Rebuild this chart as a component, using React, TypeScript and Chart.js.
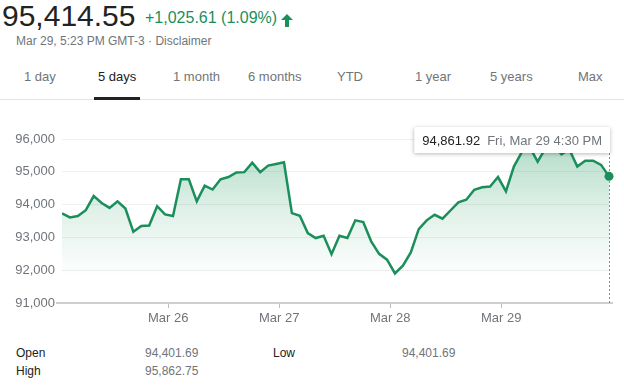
import React, { useEffect, useRef } from 'react';
import { Chart, registerables } from 'chart.js';

Chart.register(...registerables);

// ---- Data ----
const prices: number[] = [
  // Mar 25
  93730, 93610, 93650, 93830, 94260, 94050, 93900, 94100, 93880, 93170, 93350, 93360, 93950, 93700,
  // Mar 26
  93650, 94770, 94770, 94100, 94580, 94460, 94770, 94840, 94980, 94990, 95280, 94990, 95190, 95240,
  // Mar 27
  95290, 93740, 93660, 93130, 92980, 93050, 92490, 93050, 92980, 93520, 93470, 92880, 92500, 92320,
  // Mar 28
  91900, 92140, 92540, 93250, 93520, 93690, 93570, 93820, 94070, 94150, 94450, 94530, 94550, 94840,
  // Mar 29
  94401.69, 95160, 95600, 95750, 95310, 95720, 95862.75, 95530, 95680, 95160, 95340, 95340, 95210, 94861.92,
];
const pointsPerDay = 14;
const dayLabels = ['Mar 26', 'Mar 27', 'Mar 28', 'Mar 29'];
const yMin = 91000;
const yMax = 96000;
const yStep = 1000;

const lastValueText = '94,861.92';
const lastTimeText = 'Fri, Mar 29 4:30 PM';

const headPrice = '95,414.55';
const headChange = '+1,025.61 (1.09%)';
const headSub = 'Mar 29, 5:23 PM GMT-3';
const headDisclaimer = 'Disclaimer';
const tabs = ['1 day', '5 days', '1 month', '6 months', 'YTD', '1 year', '5 years', 'Max'];
const activeTab = '5 days';
const statLabels = ['Open', 'High', 'Low'];
const statValues = ['94,401.69', '95,862.75', '94,401.69'];

const FONT = 'Arial, "Liberation Sans", Helvetica, sans-serif';
const GREEN = '#1b8f5b';
const GRAY = '#70757a';

const tabX = [24, 98, 173, 248, 337, 415, 490, 578];

export default function App() {
  const canvasRef = useRef<HTMLCanvasElement | null>(null);

  useEffect(() => {
    const canvas = canvasRef.current;
    if (!canvas) return;
    const last = prices.length - 1;

    const overlay = {
      id: 'overlay',
      afterDraw(chart: any) {
        const ctx = chart.ctx as CanvasRenderingContext2D;
        const area = chart.chartArea;
        const meta = chart.getDatasetMeta(0);
        const pt = meta.data[last];
        ctx.save();
        // x-axis baseline
        ctx.strokeStyle = '#cfcfcf';
        ctx.lineWidth = 2;
        ctx.beginPath();
        ctx.moveTo(area.left - 6, area.bottom);
        ctx.lineTo(area.right + 4, area.bottom);
        ctx.stroke();

        // tooltip box
        ctx.font = `13px ${FONT}`;
        const w1 = ctx.measureText(lastValueText).width;
        const w2 = ctx.measureText(lastTimeText).width;
        const boxW = 8 + w1 + 7 + w2 + 8;
        const boxH = 26;
        const boxRight = pt.x + 1;
        const boxLeft = boxRight - boxW;
        const boxTop = area.top - 12;

        // dotted vertical line
        ctx.strokeStyle = '#8a8a8a';
        ctx.lineWidth = 1;
        ctx.setLineDash([2, 2]);
        ctx.beginPath();
        ctx.moveTo(Math.round(pt.x) + 0.5, boxTop + boxH);
        ctx.lineTo(Math.round(pt.x) + 0.5, area.bottom);
        ctx.stroke();
        ctx.setLineDash([]);

        ctx.shadowColor = 'rgba(0,0,0,0.28)';
        ctx.shadowBlur = 4;
        ctx.shadowOffsetY = 1;
        ctx.fillStyle = '#ffffff';
        ctx.fillRect(boxLeft, boxTop, boxW, boxH);
        ctx.shadowColor = 'transparent';
        ctx.shadowBlur = 0;
        ctx.shadowOffsetY = 0;
        ctx.textBaseline = 'middle';
        ctx.textAlign = 'left';
        ctx.fillStyle = '#222222';
        ctx.fillText(lastValueText, boxLeft + 8, boxTop + boxH / 2 + 1);
        ctx.fillStyle = GRAY;
        ctx.fillText(lastTimeText, boxLeft + 8 + w1 + 7, boxTop + boxH / 2 + 1);

        // end dot
        ctx.fillStyle = GREEN;
        ctx.beginPath();
        ctx.arc(pt.x, pt.y, 4.5, 0, Math.PI * 2);
        ctx.fill();
        ctx.restore();
      },
    };

    const chart = new Chart(canvas, {
      type: 'line',
      data: {
        datasets: [
          {
            data: prices.map((v, i) => ({ x: i, y: v })),
            borderColor: GREEN,
            borderWidth: 2.5,
            pointRadius: 0,
            tension: 0,
            fill: 'start',
            backgroundColor: (c: any) => {
              const a = c.chart.chartArea;
              if (!a) return 'rgba(27,143,91,0.2)';
              const g = c.chart.ctx.createLinearGradient(0, a.top, 0, a.bottom);
              g.addColorStop(0, 'rgba(27,150,91,0.34)');
              g.addColorStop(0.45, 'rgba(27,150,91,0.13)');
              g.addColorStop(0.85, 'rgba(27,150,91,0.0)');
              return g;
            },
          },
        ],
      },
      options: {
        animation: false,
        responsive: false,
        maintainAspectRatio: false,
        layout: { padding: { top: 29, right: 15, left: 0, bottom: 0 } },
        plugins: { legend: { display: false }, tooltip: { enabled: false } },
        scales: {
          x: {
            type: 'linear',
            min: 0,
            max: prices.length - 1,
            afterBuildTicks: (scale: any) => {
              scale.ticks = dayLabels.map((_, i) => ({ value: (i + 1) * pointsPerDay - 0.6 }));
            },
            afterFit: (scale: any) => {
              scale.height = 27;
            },
            ticks: {
              autoSkip: false,
              maxRotation: 0,
              padding: 3,
              color: GRAY,
              font: { family: FONT, size: 13 },
              callback: (_v: any, i: number) => dayLabels[i],
            },
            grid: {
              drawOnChartArea: false,
              drawTicks: true,
              tickLength: 5,
              color: '#bdbdbd',
            },
            border: { display: false },
          },
          y: {
            min: yMin,
            max: yMax,
            afterFit: (scale: any) => {
              scale.width = 62;
            },
            ticks: {
              stepSize: yStep,
              padding: 7,
              color: GRAY,
              font: { family: FONT, size: 13 },
              callback: (v: any) => Number(v).toLocaleString('en-US'),
            },
            grid: {
              drawTicks: false,
              color: (c: any) => (c.tick && c.tick.value === yMin ? 'rgba(0,0,0,0)' : '#efefef'),
            },
            border: { display: false },
          },
        },
      },
      plugins: [overlay],
    } as any);

    return () => chart.destroy();
  }, []);

  const text = (s: React.CSSProperties): React.CSSProperties => ({
    position: 'absolute',
    whiteSpace: 'nowrap',
    fontFamily: FONT,
    lineHeight: 1,
    margin: 0,
    ...s,
  });

  return (
    <div
      style={{
        position: 'absolute',
        left: 0,
        top: 0,
        width: 624,
        height: 391,
        background: '#fff',
        overflow: 'hidden',
      }}
    >
      <div style={text({ left: 2, top: 1, fontSize: 30, color: '#222' })}>{headPrice}</div>
      <div style={text({ left: 145, top: 10, fontSize: 16, color: GREEN })}>{headChange}</div>
      <svg style={{ position: 'absolute', left: 281, top: 14 }} width={12} height={13} viewBox="0 0 12 13">
        <polygon points="6,0 12,6 8,6 8,13 4,13 4,6 0,6" fill={GREEN} />
      </svg>
      <div style={text({ left: 16, top: 35, fontSize: 12, color: GRAY })}>
        {headSub} · {headDisclaimer}
      </div>

      {tabs.map((t, i) => (
        <div
          key={t}
          style={text({
            left: tabX[i],
            top: 70,
            fontSize: 13,
            color: t === activeTab ? '#222' : GRAY,
          })}
        >
          {t}
        </div>
      ))}
      <div style={{ position: 'absolute', left: 0, top: 99, width: 624, height: 1, background: '#e3e3e3' }} />
      <div style={{ position: 'absolute', left: 94, top: 97, width: 46, height: 3, background: '#222' }} />

      <canvas
        ref={canvasRef}
        width={624}
        height={220}
        style={{ position: 'absolute', left: 0, top: 110, width: 624, height: 220 }}
      />

      <div style={text({ left: 16, top: 347, fontSize: 12, color: '#222' })}>{statLabels[0]}</div>
      <div style={text({ left: 145, top: 347, fontSize: 12, color: GRAY })}>{statValues[0]}</div>
      <div style={text({ left: 16, top: 365, fontSize: 12, color: '#222' })}>{statLabels[1]}</div>
      <div style={text({ left: 145, top: 365, fontSize: 12, color: GRAY })}>{statValues[1]}</div>
      <div style={text({ left: 273, top: 347, fontSize: 12, color: '#222' })}>{statLabels[2]}</div>
      <div style={text({ left: 402, top: 347, fontSize: 12, color: GRAY })}>{statValues[2]}</div>
    </div>
  );
}
